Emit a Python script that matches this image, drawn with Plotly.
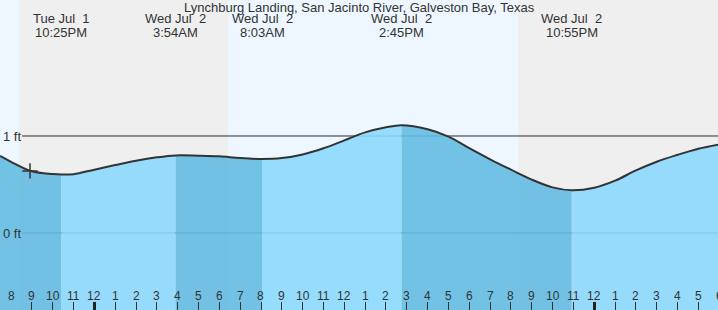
import plotly.graph_objects as go

# ---- data (hours counted from Jul 1 00:00) ----
tide_hours = [19.47, 20, 21, 22, 22.42, 23, 24, 25, 26, 27, 27.9, 29, 30, 31, 32.05,
              33, 34, 35, 36, 37, 38, 38.75, 40, 41, 42, 43, 44, 45, 46, 46.92,
              48, 49, 50, 51, 52, 53, 53.94]
tide_ft = [0.794, 0.734, 0.636, 0.608, 0.603, 0.606, 0.653, 0.70, 0.745, 0.78, 0.80, 0.797,
           0.79, 0.772, 0.763, 0.772, 0.81, 0.873, 0.955, 1.037, 1.09, 1.112, 1.07, 0.994,
           0.875, 0.76, 0.653, 0.55, 0.47, 0.44, 0.466, 0.539, 0.645, 0.735, 0.806,
           0.869, 0.91]

extreme_hours = [22.42, 27.9, 32.05, 38.75, 46.92]
extreme_day = ["Tue Jul \u00a01", "Wed Jul \u00a02", "Wed Jul \u00a02", "Wed Jul \u00a02", "Wed Jul \u00a02"]
extreme_time = ["10:25PM", "3:54AM", "8:03AM", "2:45PM", "10:55PM"]

sunset_1 = 20.38
sunrise_2 = 30.42
sunset_2 = 44.34

now_hour = 20.91
now_ft = 0.64

tick_hours = list(range(20, 55))
tick_text = [str((h - 1) % 12 + 1) for h in tick_hours]
midnight_hours = [24, 48]

title = "Lynchburg Landing, San Jacinto River, Galveston Bay, Texas"

x_range = [19.47, 53.94]
y_range = [-0.794, 2.402]

FONT = "Liberation Sans, Arial, sans-serif"
TXT = "#333333"
DAY = "#EEF7FF"
NIGHT = "#EFEFEF"
FILL_FALL = "rgba(100,187,227,0.9)"
FILL_RISE = "rgba(140,216,253,0.9)"
SMOOTH = 1.0

fig = go.Figure()

# fill segments split at the extremes
bounds = [tide_hours[0]] + extreme_hours + [tide_hours[-1]]
for i in range(len(bounds) - 1):
    a, b = bounds[i], bounds[i + 1]
    xs = [h for h in tide_hours if a <= h <= b]
    ys = [tide_ft[tide_hours.index(h)] for h in xs]
    fig.add_trace(go.Scatter(x=xs, y=[y_range[0]] * len(xs), mode="lines",
                             line=dict(width=0), hoverinfo="skip", showlegend=False))
    fig.add_trace(go.Scatter(x=xs, y=ys, mode="lines", fill="tonexty",
                             fillcolor=FILL_FALL if i % 2 == 0 else FILL_RISE,
                             line=dict(width=0, shape="spline", smoothing=SMOOTH),
                             hoverinfo="skip", showlegend=False))

# tide curve
fig.add_trace(go.Scatter(x=tide_hours, y=tide_ft, mode="lines",
                         line=dict(color="#333333", width=2, shape="spline", smoothing=SMOOTH),
                         showlegend=False))

# now marker
fig.add_trace(go.Scatter(x=[now_hour], y=[now_ft], mode="markers",
                         marker=dict(symbol="cross-thin", size=11,
                                     line=dict(color="#333333", width=1.5)),
                         showlegend=False))

# dummy trace for the midnight tick axis
fig.add_trace(go.Scatter(x=[x_range[0]], y=[y_range[0]], xaxis="x2", mode="markers",
                         marker=dict(opacity=0), hoverinfo="skip", showlegend=False))

shapes = []
# day / night bands
bands = [(x_range[0], sunset_1, DAY), (sunset_1, sunrise_2, NIGHT),
         (sunrise_2, sunset_2, DAY), (sunset_2, x_range[1], NIGHT)]
for a, b, c in bands:
    shapes.append(dict(type="rect", xref="x", yref="paper", x0=a, x1=b, y0=0, y1=1,
                       fillcolor=c, line=dict(width=0), layer="below"))
# ft reference lines
for v in [0, 1]:
    shapes.append(dict(type="line", xref="paper", yref="y", x0=22 / 718, x1=1, y0=v, y1=v,
                       line=dict(color="#2a2a2a", width=1), layer="below"))

annotations = [dict(text=title, x=0.5, y=1 - 8 / 310, xref="paper", yref="paper",
                    showarrow=False, font=dict(family=FONT, size=13, color=TXT),
                    xanchor="center", yanchor="middle")]
for h, d, t in zip(extreme_hours, extreme_day, extreme_time):
    annotations.append(dict(text=d, x=h, y=1 - 19 / 310, xref="x", yref="paper",
                            showarrow=False, font=dict(family=FONT, size=13, color=TXT),
                            xanchor="center", yanchor="middle"))
    annotations.append(dict(text=t, x=h, y=1 - 32 / 310, xref="x", yref="paper",
                            showarrow=False, font=dict(family=FONT, size=13, color=TXT),
                            xanchor="center", yanchor="middle"))
# hour labels along the bottom (paper-referenced so the edge label is still drawn)
span = x_range[1] - x_range[0]
for h, t in zip(tick_hours, tick_text):
    annotations.append(dict(text=t, x=(h - x_range[0]) / span, y=14 / 310,
                            xref="paper", yref="paper",
                            showarrow=False, font=dict(family=FONT, size=12, color=TXT),
                            xanchor="center", yanchor="middle"))

fig.update_layout(
    width=718, height=310,
    margin=dict(l=0, r=0, t=0, b=0),
    paper_bgcolor=DAY, plot_bgcolor=DAY,
    shapes=shapes, annotations=annotations,
    font=dict(family=FONT, color=TXT),
    xaxis=dict(range=x_range, tickmode="array", tickvals=tick_hours,
               ticks="inside", ticklen=8, tickwidth=1, tickcolor="#333333",
               showticklabels=False,
               showgrid=False, zeroline=False, showline=False, fixedrange=True),
    xaxis2=dict(range=x_range, overlaying="x", anchor="y", side="bottom",
                tickmode="array", tickvals=midnight_hours, ticks="inside", ticklen=8,
                tickwidth=3, tickcolor="#222222", showticklabels=False,
                showgrid=False, zeroline=False, showline=False),
    yaxis=dict(range=y_range, tickmode="array", tickvals=[0, 1], ticktext=["0 ft", "1 ft"],
               ticks="", ticklabelposition="inside",
               tickfont=dict(family=FONT, size=13, color=TXT),
               showgrid=False, zeroline=False, showline=False),
)

fig.write_html("out.html")
